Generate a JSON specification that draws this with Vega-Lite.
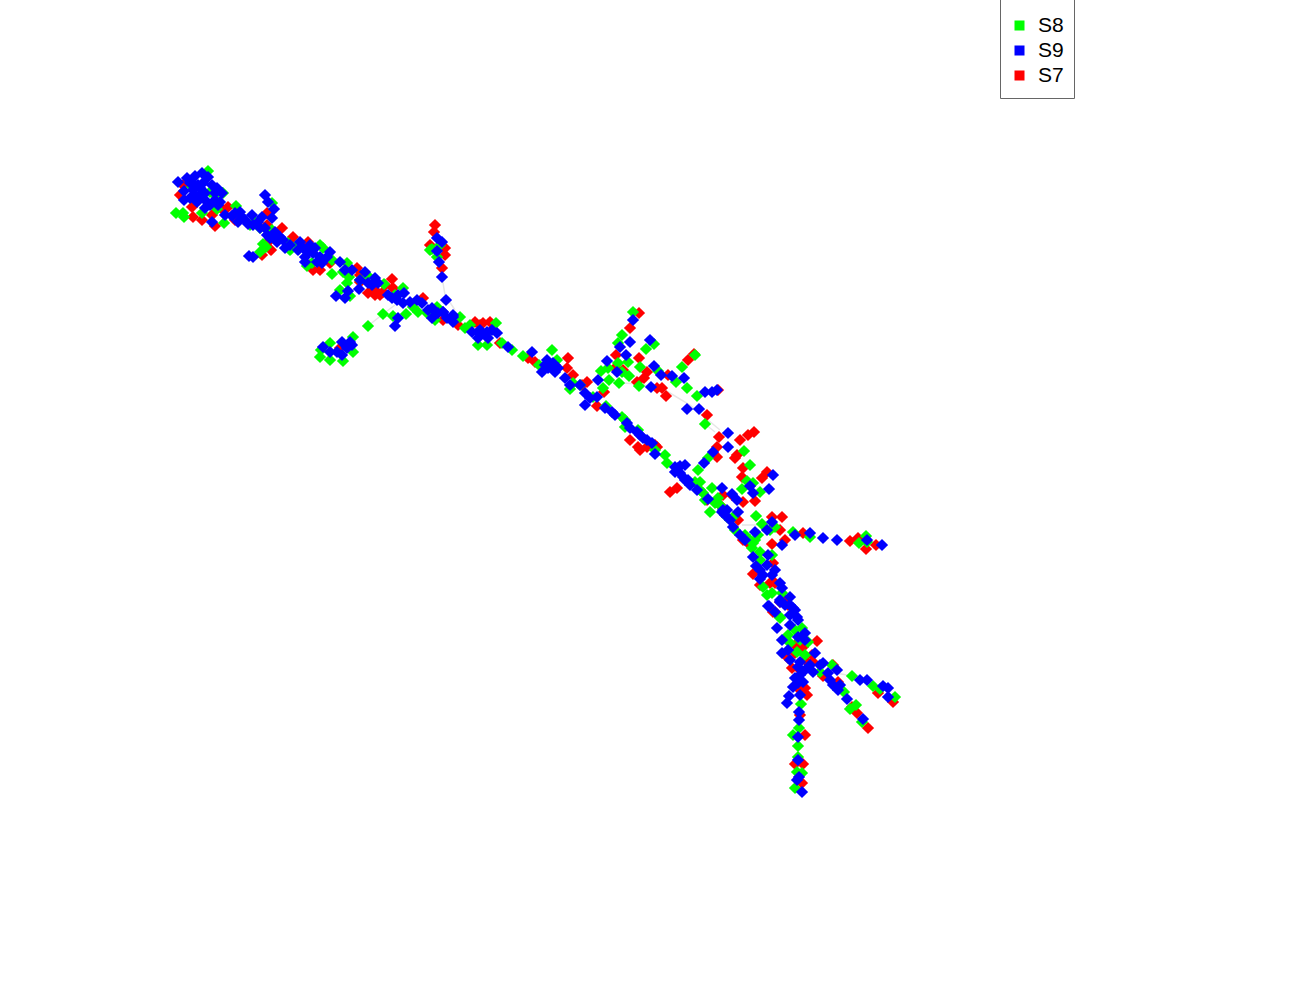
{"$schema":"https://vega.github.io/schema/vega-lite/v6.json","width":1300,"height":1000,"padding":0,"autosize":{"type":"none"},"background":"white","config":{"view":{"stroke":null}},
"datasets":{"tracks":[
{"p":"a","o":1,"x":368,"y":326},{"p":"a","o":2,"x":383,"y":314},{"p":"a","o":3,"x":395,"y":305},
{"p":"b","o":1,"x":442,"y":277},{"p":"b","o":2,"x":445,"y":295},{"p":"b","o":3,"x":455,"y":310},
{"p":"c","o":1,"x":622,"y":383},{"p":"c","o":2,"x":640,"y":384},{"p":"c","o":3,"x":665,"y":390},{"p":"c","o":4,"x":690,"y":405},{"p":"c","o":5,"x":720,"y":430},
{"p":"d","o":1,"x":770,"y":525},{"p":"d","o":2,"x":750,"y":525},{"p":"d","o":3,"x":742,"y":525},
{"p":"e","o":1,"x":820,"y":670},{"p":"e","o":2,"x":852,"y":676},
{"p":"f","o":1,"x":705,"y":424},{"p":"f","o":2,"x":715,"y":432}],
"pts":[
{"x":760,"y":585,"s":"S7"},{"x":785,"y":600,"s":"S7"},{"x":805,"y":660,"s":"S7"},{"x":812,"y":655,"s":"S7"},{"x":795,"y":645,"s":"S7"},{"x":630,"y":440,"s":"S7"},{"x":640,"y":450,"s":"S7"},{"x":655,"y":445,"s":"S7"},{"x":480,"y":325,"s":"S7"},{"x":375,"y":295,"s":"S7"},{"x":385,"y":285,"s":"S7"},{"x":360,"y":282,"s":"S7"},{"x":310,"y":265,"s":"S7"},{"x":270,"y":240,"s":"S7"},{"x":235,"y":220,"s":"S7"},{"x":215,"y":205,"s":"S7"},{"x":430,"y":245,"s":"S7"},{"x":445,"y":255,"s":"S7"},{"x":750,"y":545,"s":"S7"},{"x":738,"y":520,"s":"S7"},{"x":720,"y":505,"s":"S7"},
{"x":180,"y":195,"s":"S7"},{"x":192,"y":207,"s":"S7"},{"x":193,"y":217,"s":"S7"},{"x":202,"y":220,"s":"S7"},{"x":215,"y":226,"s":"S7"},{"x":212,"y":215,"s":"S7"},{"x":228,"y":207,"s":"S7"},{"x":223,"y":210,"s":"S7"},{"x":213,"y":193,"s":"S7"},{"x":267,"y":213,"s":"S7"},{"x":282,"y":228,"s":"S7"},{"x":293,"y":237,"s":"S7"},{"x":308,"y":242,"s":"S7"},{"x":313,"y":270,"s":"S7"},{"x":320,"y":270,"s":"S7"},{"x":330,"y":263,"s":"S7"},{"x":360,"y":275,"s":"S7"},{"x":392,"y":279,"s":"S7"},{"x":368,"y":293,"s":"S7"},{"x":377,"y":292,"s":"S7"},{"x":380,"y":295,"s":"S7"},{"x":373,"y":287,"s":"S7"},{"x":393,"y":288,"s":"S7"},{"x":383,"y":292,"s":"S7"},{"x":435,"y":225,"s":"S7"},{"x":434,"y":232,"s":"S7"},{"x":445,"y":248,"s":"S7"},{"x":442,"y":268,"s":"S7"},{"x":262,"y":255,"s":"S7"},{"x":271,"y":250,"s":"S7"},{"x":340,"y":348,"s":"S7"},{"x":443,"y":320,"s":"S7"},{"x":458,"y":325,"s":"S7"},{"x":423,"y":298,"s":"S7"},{"x":357,"y":268,"s":"S7"},{"x":267,"y":225,"s":"S7"},{"x":183,"y":185,"s":"S7"},
{"x":475,"y":322,"s":"S7"},{"x":483,"y":323,"s":"S7"},{"x":490,"y":322,"s":"S7"},{"x":482,"y":333,"s":"S7"},{"x":500,"y":343,"s":"S7"},{"x":535,"y":362,"s":"S7"},{"x":528,"y":358,"s":"S7"},{"x":568,"y":358,"s":"S7"},{"x":567,"y":368,"s":"S7"},{"x":573,"y":375,"s":"S7"},{"x":587,"y":382,"s":"S7"},{"x":582,"y":385,"s":"S7"},{"x":604,"y":392,"s":"S7"},{"x":597,"y":406,"s":"S7"},{"x":639,"y":313,"s":"S7"},{"x":630,"y":328,"s":"S7"},{"x":616,"y":355,"s":"S7"},{"x":639,"y":358,"s":"S7"},{"x":647,"y":372,"s":"S7"},{"x":644,"y":378,"s":"S7"},{"x":637,"y":382,"s":"S7"},{"x":668,"y":375,"s":"S7"},{"x":662,"y":388,"s":"S7"},{"x":657,"y":388,"s":"S7"},{"x":666,"y":396,"s":"S7"},{"x":688,"y":360,"s":"S7"},{"x":694,"y":354,"s":"S7"},{"x":718,"y":390,"s":"S7"},{"x":707,"y":415,"s":"S7"},{"x":719,"y":437,"s":"S7"},{"x":717,"y":447,"s":"S7"},{"x":717,"y":457,"s":"S7"},{"x":735,"y":458,"s":"S7"},{"x":638,"y":447,"s":"S7"},{"x":647,"y":447,"s":"S7"},{"x":657,"y":447,"s":"S7"},{"x":677,"y":488,"s":"S7"},{"x":670,"y":492,"s":"S7"},{"x":623,"y":370,"s":"S7"},{"x":615,"y":368,"s":"S7"},{"x":555,"y":365,"s":"S7"},
{"x":740,"y":440,"s":"S7"},{"x":748,"y":435,"s":"S7"},{"x":754,"y":432,"s":"S7"},{"x":737,"y":455,"s":"S7"},{"x":743,"y":468,"s":"S7"},{"x":742,"y":477,"s":"S7"},{"x":762,"y":478,"s":"S7"},{"x":767,"y":472,"s":"S7"},{"x":755,"y":501,"s":"S7"},{"x":743,"y":502,"s":"S7"},{"x":732,"y":495,"s":"S7"},{"x":723,"y":495,"s":"S7"},{"x":707,"y":500,"s":"S7"},{"x":772,"y":517,"s":"S7"},{"x":782,"y":517,"s":"S7"},{"x":780,"y":530,"s":"S7"},{"x":785,"y":540,"s":"S7"},{"x":772,"y":544,"s":"S7"},{"x":803,"y":533,"s":"S7"},{"x":850,"y":541,"s":"S7"},{"x":858,"y":538,"s":"S7"},{"x":866,"y":549,"s":"S7"},{"x":876,"y":545,"s":"S7"},{"x":743,"y":540,"s":"S7"},{"x":753,"y":574,"s":"S7"},{"x":773,"y":563,"s":"S7"},{"x":775,"y":583,"s":"S7"},{"x":770,"y":583,"s":"S7"},{"x":780,"y":602,"s":"S7"},{"x":775,"y":612,"s":"S7"},
{"x":773,"y":612,"s":"S7"},{"x":788,"y":605,"s":"S7"},{"x":817,"y":641,"s":"S7"},{"x":803,"y":647,"s":"S7"},{"x":795,"y":653,"s":"S7"},{"x":788,"y":658,"s":"S7"},{"x":792,"y":668,"s":"S7"},{"x":813,"y":662,"s":"S7"},{"x":800,"y":670,"s":"S7"},{"x":823,"y":676,"s":"S7"},{"x":833,"y":665,"s":"S7"},{"x":838,"y":682,"s":"S7"},{"x":805,"y":688,"s":"S7"},{"x":807,"y":695,"s":"S7"},{"x":800,"y":690,"s":"S7"},{"x":878,"y":693,"s":"S7"},{"x":893,"y":702,"s":"S7"},{"x":852,"y":707,"s":"S7"},{"x":857,"y":713,"s":"S7"},{"x":868,"y":728,"s":"S7"},{"x":805,"y":735,"s":"S7"},{"x":795,"y":764,"s":"S7"},{"x":803,"y":764,"s":"S7"},{"x":802,"y":783,"s":"S7"},{"x":800,"y":715,"s":"S7"},
{"x":735,"y":530,"s":"S8"},{"x":745,"y":535,"s":"S8"},{"x":752,"y":548,"s":"S8"},{"x":758,"y":535,"s":"S8"},{"x":770,"y":530,"s":"S8"},{"x":800,"y":640,"s":"S8"},{"x":795,"y":630,"s":"S8"},{"x":700,"y":490,"s":"S8"},{"x":705,"y":500,"s":"S8"},{"x":720,"y":505,"s":"S8"},{"x":655,"y":450,"s":"S8"},{"x":625,"y":420,"s":"S8"},{"x":580,"y":385,"s":"S8"},{"x":470,"y":325,"s":"S8"},{"x":360,"y":280,"s":"S8"},{"x":320,"y":245,"s":"S8"},{"x":290,"y":250,"s":"S8"},{"x":250,"y":225,"s":"S8"},{"x":215,"y":195,"s":"S8"},{"x":205,"y":175,"s":"S8"},{"x":430,"y":250,"s":"S8"},{"x":440,"y":245,"s":"S8"},{"x":755,"y":540,"s":"S8"},
{"x":176,"y":213,"s":"S8"},{"x":183,"y":213,"s":"S8"},{"x":184,"y":217,"s":"S8"},{"x":208,"y":171,"s":"S8"},{"x":192,"y":187,"s":"S8"},{"x":202,"y":213,"s":"S8"},{"x":210,"y":192,"s":"S8"},{"x":223,"y":193,"s":"S8"},{"x":224,"y":223,"s":"S8"},{"x":236,"y":206,"s":"S8"},{"x":217,"y":209,"s":"S8"},{"x":272,"y":203,"s":"S8"},{"x":255,"y":222,"s":"S8"},{"x":260,"y":228,"s":"S8"},{"x":272,"y":230,"s":"S8"},{"x":263,"y":244,"s":"S8"},{"x":260,"y":252,"s":"S8"},{"x":266,"y":247,"s":"S8"},{"x":288,"y":243,"s":"S8"},{"x":297,"y":245,"s":"S8"},{"x":323,"y":248,"s":"S8"},{"x":332,"y":260,"s":"S8"},{"x":312,"y":263,"s":"S8"},{"x":307,"y":266,"s":"S8"},{"x":332,"y":274,"s":"S8"},{"x":347,"y":263,"s":"S8"},{"x":343,"y":272,"s":"S8"},{"x":349,"y":277,"s":"S8"},{"x":347,"y":283,"s":"S8"},{"x":340,"y":290,"s":"S8"},{"x":350,"y":296,"s":"S8"},{"x":368,"y":326,"s":"S8"},{"x":383,"y":314,"s":"S8"},{"x":393,"y":316,"s":"S8"},{"x":406,"y":314,"s":"S8"},{"x":368,"y":276,"s":"S8"},{"x":384,"y":284,"s":"S8"},{"x":395,"y":295,"s":"S8"},{"x":403,"y":288,"s":"S8"},{"x":413,"y":307,"s":"S8"},{"x":418,"y":312,"s":"S8"},{"x":427,"y":313,"s":"S8"},{"x":435,"y":320,"s":"S8"},{"x":437,"y":307,"s":"S8"},{"x":353,"y":337,"s":"S8"},{"x":353,"y":352,"s":"S8"},{"x":320,"y":357,"s":"S8"},{"x":321,"y":350,"s":"S8"},{"x":330,"y":360,"s":"S8"},{"x":343,"y":361,"s":"S8"},{"x":330,"y":343,"s":"S8"},{"x":432,"y":249,"s":"S8"},{"x":437,"y":257,"s":"S8"},
{"x":460,"y":317,"s":"S8"},{"x":465,"y":328,"s":"S8"},{"x":496,"y":323,"s":"S8"},{"x":478,"y":345,"s":"S8"},{"x":487,"y":345,"s":"S8"},{"x":502,"y":343,"s":"S8"},{"x":512,"y":350,"s":"S8"},{"x":523,"y":356,"s":"S8"},{"x":552,"y":350,"s":"S8"},{"x":557,"y":360,"s":"S8"},{"x":539,"y":365,"s":"S8"},{"x":573,"y":383,"s":"S8"},{"x":570,"y":389,"s":"S8"},{"x":593,"y":397,"s":"S8"},{"x":603,"y":388,"s":"S8"},{"x":606,"y":406,"s":"S8"},{"x":601,"y":371,"s":"S8"},{"x":609,"y":380,"s":"S8"},{"x":619,"y":383,"s":"S8"},{"x":629,"y":376,"s":"S8"},{"x":640,"y":367,"s":"S8"},{"x":628,"y":362,"s":"S8"},{"x":618,"y":363,"s":"S8"},{"x":608,"y":368,"s":"S8"},{"x":622,"y":335,"s":"S8"},{"x":618,"y":343,"s":"S8"},{"x":646,"y":349,"s":"S8"},{"x":654,"y":344,"s":"S8"},{"x":633,"y":312,"s":"S8"},{"x":658,"y":371,"s":"S8"},{"x":682,"y":367,"s":"S8"},{"x":695,"y":355,"s":"S8"},{"x":676,"y":382,"s":"S8"},{"x":687,"y":388,"s":"S8"},{"x":697,"y":396,"s":"S8"},{"x":705,"y":424,"s":"S8"},{"x":639,"y":386,"s":"S8"},{"x":622,"y":417,"s":"S8"},{"x":625,"y":427,"s":"S8"},{"x":638,"y":430,"s":"S8"},{"x":665,"y":455,"s":"S8"},{"x":667,"y":463,"s":"S8"},{"x":698,"y":470,"s":"S8"},{"x":708,"y":458,"s":"S8"},{"x":695,"y":482,"s":"S8"},{"x":700,"y":482,"s":"S8"},{"x":703,"y":493,"s":"S8"},{"x":712,"y":488,"s":"S8"},{"x":715,"y":503,"s":"S8"},{"x":710,"y":512,"s":"S8"},{"x":727,"y":517,"s":"S8"},{"x":733,"y":517,"s":"S8"},{"x":622,"y":372,"s":"S8"},
{"x":744,"y":451,"s":"S8"},{"x":750,"y":465,"s":"S8"},{"x":718,"y":498,"s":"S8"},{"x":742,"y":489,"s":"S8"},{"x":747,"y":481,"s":"S8"},{"x":753,"y":483,"s":"S8"},{"x":760,"y":492,"s":"S8"},{"x":756,"y":516,"s":"S8"},{"x":762,"y":524,"s":"S8"},{"x":775,"y":527,"s":"S8"},{"x":750,"y":540,"s":"S8"},{"x":753,"y":543,"s":"S8"},{"x":760,"y":552,"s":"S8"},{"x":760,"y":560,"s":"S8"},{"x":772,"y":555,"s":"S8"},{"x":793,"y":532,"s":"S8"},{"x":810,"y":537,"s":"S8"},{"x":859,"y":543,"s":"S8"},{"x":867,"y":542,"s":"S8"},{"x":866,"y":536,"s":"S8"},{"x":763,"y":587,"s":"S8"},{"x":767,"y":595,"s":"S8"},{"x":772,"y":593,"s":"S8"},{"x":782,"y":593,"s":"S8"},{"x":780,"y":617,"s":"S8"},
{"x":780,"y":618,"s":"S8"},{"x":788,"y":635,"s":"S8"},{"x":802,"y":628,"s":"S8"},{"x":808,"y":642,"s":"S8"},{"x":797,"y":652,"s":"S8"},{"x":805,"y":655,"s":"S8"},{"x":820,"y":672,"s":"S8"},{"x":832,"y":665,"s":"S8"},{"x":852,"y":676,"s":"S8"},{"x":873,"y":686,"s":"S8"},{"x":880,"y":689,"s":"S8"},{"x":895,"y":697,"s":"S8"},{"x":844,"y":692,"s":"S8"},{"x":856,"y":705,"s":"S8"},{"x":850,"y":709,"s":"S8"},{"x":862,"y":722,"s":"S8"},{"x":801,"y":704,"s":"S8"},{"x":799,"y":728,"s":"S8"},{"x":793,"y":735,"s":"S8"},{"x":798,"y":746,"s":"S8"},{"x":798,"y":757,"s":"S8"},{"x":797,"y":772,"s":"S8"},{"x":802,"y":773,"s":"S8"},{"x":795,"y":788,"s":"S8"},{"x":790,"y":643,"s":"S8"},
{"x":178,"y":182,"s":"S9"},{"x":187,"y":178,"s":"S9"},{"x":195,"y":176,"s":"S9"},{"x":202,"y":173,"s":"S9"},{"x":208,"y":177,"s":"S9"},{"x":184,"y":191,"s":"S9"},{"x":184,"y":200,"s":"S9"},{"x":193,"y":190,"s":"S9"},{"x":198,"y":185,"s":"S9"},{"x":200,"y":195,"s":"S9"},{"x":197,"y":202,"s":"S9"},{"x":205,"y":193,"s":"S9"},{"x":217,"y":188,"s":"S9"},{"x":222,"y":193,"s":"S9"},{"x":215,"y":200,"s":"S9"},{"x":210,"y":205,"s":"S9"},{"x":220,"y":202,"s":"S9"},{"x":225,"y":215,"s":"S9"},{"x":212,"y":222,"s":"S9"},{"x":235,"y":213,"s":"S9"},{"x":242,"y":217,"s":"S9"},{"x":238,"y":222,"s":"S9"},{"x":245,"y":220,"s":"S9"},{"x":252,"y":215,"s":"S9"},{"x":265,"y":195,"s":"S9"},{"x":268,"y":202,"s":"S9"},{"x":274,"y":209,"s":"S9"},{"x":253,"y":225,"s":"S9"},{"x":262,"y":217,"s":"S9"},{"x":272,"y":218,"s":"S9"},{"x":260,"y":228,"s":"S9"},{"x":267,"y":235,"s":"S9"},{"x":275,"y":232,"s":"S9"},{"x":280,"y":237,"s":"S9"},{"x":277,"y":242,"s":"S9"},{"x":285,"y":248,"s":"S9"},{"x":300,"y":242,"s":"S9"},{"x":298,"y":250,"s":"S9"},{"x":310,"y":245,"s":"S9"},{"x":305,"y":257,"s":"S9"},{"x":313,"y":253,"s":"S9"},{"x":320,"y":257,"s":"S9"},{"x":327,"y":257,"s":"S9"},{"x":317,"y":262,"s":"S9"},{"x":340,"y":262,"s":"S9"},{"x":352,"y":270,"s":"S9"},{"x":365,"y":272,"s":"S9"},{"x":375,"y":278,"s":"S9"},{"x":368,"y":283,"s":"S9"},{"x":348,"y":291,"s":"S9"},{"x":359,"y":289,"s":"S9"},{"x":336,"y":296,"s":"S9"},{"x":345,"y":298,"s":"S9"},{"x":388,"y":295,"s":"S9"},{"x":404,"y":293,"s":"S9"},{"x":397,"y":300,"s":"S9"},{"x":403,"y":303,"s":"S9"},{"x":417,"y":300,"s":"S9"},{"x":422,"y":303,"s":"S9"},{"x":432,"y":308,"s":"S9"},{"x":443,"y":312,"s":"S9"},{"x":432,"y":318,"s":"S9"},{"x":453,"y":315,"s":"S9"},{"x":453,"y":322,"s":"S9"},{"x":249,"y":256,"s":"S9"},{"x":253,"y":257,"s":"S9"},{"x":437,"y":238,"s":"S9"},{"x":442,"y":242,"s":"S9"},{"x":437,"y":251,"s":"S9"},{"x":439,"y":262,"s":"S9"},{"x":442,"y":277,"s":"S9"},{"x":446,"y":300,"s":"S9"},{"x":398,"y":318,"s":"S9"},{"x":395,"y":326,"s":"S9"},{"x":323,"y":347,"s":"S9"},{"x":330,"y":352,"s":"S9"},{"x":342,"y":342,"s":"S9"},{"x":350,"y":342,"s":"S9"},{"x":347,"y":348,"s":"S9"},{"x":342,"y":355,"s":"S9"},{"x":337,"y":352,"s":"S9"},{"x":352,"y":345,"s":"S9"},
{"x":443,"y":312,"s":"S9"},{"x":453,"y":317,"s":"S9"},{"x":472,"y":332,"s":"S9"},{"x":478,"y":332,"s":"S9"},{"x":487,"y":332,"s":"S9"},{"x":497,"y":333,"s":"S9"},{"x":478,"y":338,"s":"S9"},{"x":488,"y":338,"s":"S9"},{"x":508,"y":347,"s":"S9"},{"x":532,"y":352,"s":"S9"},{"x":547,"y":360,"s":"S9"},{"x":553,"y":363,"s":"S9"},{"x":542,"y":372,"s":"S9"},{"x":548,"y":368,"s":"S9"},{"x":558,"y":368,"s":"S9"},{"x":565,"y":378,"s":"S9"},{"x":580,"y":385,"s":"S9"},{"x":598,"y":380,"s":"S9"},{"x":607,"y":361,"s":"S9"},{"x":617,"y":372,"s":"S9"},{"x":630,"y":342,"s":"S9"},{"x":620,"y":347,"s":"S9"},{"x":626,"y":355,"s":"S9"},{"x":633,"y":320,"s":"S9"},{"x":650,"y":340,"s":"S9"},{"x":654,"y":366,"s":"S9"},{"x":661,"y":375,"s":"S9"},{"x":672,"y":376,"s":"S9"},{"x":684,"y":378,"s":"S9"},{"x":651,"y":387,"s":"S9"},{"x":705,"y":392,"s":"S9"},{"x":712,"y":392,"s":"S9"},{"x":717,"y":390,"s":"S9"},{"x":687,"y":409,"s":"S9"},{"x":699,"y":409,"s":"S9"},{"x":585,"y":393,"s":"S9"},{"x":585,"y":405,"s":"S9"},{"x":597,"y":397,"s":"S9"},{"x":612,"y":412,"s":"S9"},{"x":615,"y":415,"s":"S9"},{"x":627,"y":423,"s":"S9"},{"x":637,"y":432,"s":"S9"},{"x":643,"y":438,"s":"S9"},{"x":652,"y":443,"s":"S9"},{"x":655,"y":454,"s":"S9"},{"x":678,"y":468,"s":"S9"},{"x":685,"y":465,"s":"S9"},{"x":683,"y":477,"s":"S9"},{"x":688,"y":480,"s":"S9"},{"x":704,"y":463,"s":"S9"},{"x":713,"y":452,"s":"S9"},{"x":728,"y":433,"s":"S9"},{"x":728,"y":447,"s":"S9"},{"x":697,"y":490,"s":"S9"},{"x":708,"y":499,"s":"S9"},{"x":722,"y":488,"s":"S9"},{"x":732,"y":494,"s":"S9"},{"x":737,"y":500,"s":"S9"},{"x":723,"y":510,"s":"S9"},
{"x":675,"y":467,"s":"S9"},{"x":680,"y":473,"s":"S9"},{"x":685,"y":480,"s":"S9"},{"x":722,"y":512,"s":"S9"},{"x":727,"y":510,"s":"S9"},{"x":738,"y":512,"s":"S9"},{"x":733,"y":527,"s":"S9"},{"x":750,"y":486,"s":"S9"},{"x":753,"y":493,"s":"S9"},{"x":773,"y":475,"s":"S9"},{"x":769,"y":489,"s":"S9"},{"x":772,"y":522,"s":"S9"},{"x":767,"y":530,"s":"S9"},{"x":755,"y":532,"s":"S9"},{"x":740,"y":535,"s":"S9"},{"x":795,"y":535,"s":"S9"},{"x":810,"y":533,"s":"S9"},{"x":823,"y":538,"s":"S9"},{"x":837,"y":540,"s":"S9"},{"x":782,"y":545,"s":"S9"},{"x":867,"y":540,"s":"S9"},{"x":882,"y":545,"s":"S9"},{"x":753,"y":557,"s":"S9"},{"x":768,"y":555,"s":"S9"},{"x":756,"y":566,"s":"S9"},{"x":767,"y":565,"s":"S9"},{"x":775,"y":570,"s":"S9"},{"x":763,"y":575,"s":"S9"},{"x":760,"y":579,"s":"S9"},{"x":780,"y":583,"s":"S9"},{"x":782,"y":588,"s":"S9"},{"x":790,"y":597,"s":"S9"},{"x":780,"y":600,"s":"S9"},{"x":768,"y":606,"s":"S9"},{"x":793,"y":608,"s":"S9"},{"x":775,"y":612,"s":"S9"},{"x":797,"y":617,"s":"S9"},
{"x":769,"y":606,"s":"S9"},{"x":780,"y":602,"s":"S9"},{"x":790,"y":615,"s":"S9"},{"x":798,"y":620,"s":"S9"},{"x":777,"y":628,"s":"S9"},{"x":782,"y":640,"s":"S9"},{"x":798,"y":637,"s":"S9"},{"x":805,"y":633,"s":"S9"},{"x":782,"y":653,"s":"S9"},{"x":788,"y":650,"s":"S9"},{"x":815,"y":653,"s":"S9"},{"x":800,"y":662,"s":"S9"},{"x":798,"y":667,"s":"S9"},{"x":810,"y":665,"s":"S9"},{"x":813,"y":672,"s":"S9"},{"x":823,"y":663,"s":"S9"},{"x":837,"y":670,"s":"S9"},{"x":828,"y":673,"s":"S9"},{"x":795,"y":678,"s":"S9"},{"x":803,"y":682,"s":"S9"},{"x":798,"y":683,"s":"S9"},{"x":793,"y":687,"s":"S9"},{"x":840,"y":685,"s":"S9"},{"x":833,"y":685,"s":"S9"},{"x":838,"y":690,"s":"S9"},{"x":860,"y":680,"s":"S9"},{"x":867,"y":680,"s":"S9"},{"x":883,"y":686,"s":"S9"},{"x":888,"y":688,"s":"S9"},{"x":888,"y":697,"s":"S9"},{"x":789,"y":696,"s":"S9"},{"x":787,"y":703,"s":"S9"},{"x":800,"y":695,"s":"S9"},{"x":847,"y":699,"s":"S9"},{"x":863,"y":719,"s":"S9"},{"x":799,"y":712,"s":"S9"},{"x":799,"y":720,"s":"S9"},{"x":798,"y":737,"s":"S9"},{"x":798,"y":760,"s":"S9"},{"x":799,"y":777,"s":"S9"},{"x":797,"y":780,"s":"S9"},{"x":802,"y":792,"s":"S9"},
{"x":190,"y":183,"s":"S9"},{"x":195,"y":195,"s":"S9"},{"x":200,"y":188,"s":"S9"},{"x":190,"y":198,"s":"S9"},{"x":205,"y":200,"s":"S9"},{"x":212,"y":185,"s":"S9"},{"x":215,"y":193,"s":"S9"},{"x":218,"y":205,"s":"S9"},{"x":205,"y":208,"s":"S9"},{"x":192,"y":182,"s":"S9"},{"x":203,"y":183,"s":"S9"},{"x":232,"y":216,"s":"S9"},{"x":240,"y":212,"s":"S9"},{"x":248,"y":224,"s":"S9"},{"x":258,"y":222,"s":"S9"},{"x":265,"y":228,"s":"S9"},{"x":270,"y":238,"s":"S9"},{"x":283,"y":240,"s":"S9"},{"x":290,"y":245,"s":"S9"},{"x":303,"y":248,"s":"S9"},{"x":308,"y":252,"s":"S9"},{"x":315,"y":248,"s":"S9"},{"x":305,"y":262,"s":"S9"},{"x":322,"y":263,"s":"S9"},{"x":330,"y":252,"s":"S9"},{"x":345,"y":270,"s":"S9"},{"x":360,"y":280,"s":"S9"},{"x":372,"y":285,"s":"S9"},{"x":378,"y":283,"s":"S9"},{"x":392,"y":298,"s":"S9"},{"x":398,"y":295,"s":"S9"},{"x":410,"y":302,"s":"S9"},{"x":428,"y":310,"s":"S9"},{"x":438,"y":313,"s":"S9"},{"x":447,"y":318,"s":"S9"},{"x":480,"y":330,"s":"S9"},{"x":485,"y":335,"s":"S9"},{"x":492,"y":330,"s":"S9"},{"x":545,"y":365,"s":"S9"},{"x":555,"y":372,"s":"S9"},{"x":570,"y":385,"s":"S9"},{"x":590,"y":398,"s":"S9"},{"x":605,"y":408,"s":"S9"},{"x":630,"y":428,"s":"S9"},{"x":640,"y":435,"s":"S9"},{"x":647,"y":440,"s":"S9"},{"x":675,"y":472,"s":"S9"},{"x":680,"y":466,"s":"S9"},{"x":690,"y":485,"s":"S9"},{"x":725,"y":515,"s":"S9"},{"x":730,"y":520,"s":"S9"},{"x":745,"y":540,"s":"S9"},{"x":760,"y":570,"s":"S9"},{"x":772,"y":575,"s":"S9"},{"x":785,"y":605,"s":"S9"},{"x":790,"y":605,"s":"S9"},{"x":795,"y":610,"s":"S9"},{"x":790,"y":625,"s":"S9"},{"x":805,"y":640,"s":"S9"},{"x":790,"y":660,"s":"S9"},{"x":800,"y":675,"s":"S9"},{"x":805,"y":670,"s":"S9"},{"x":820,"y":665,"s":"S9"},{"x":830,"y":680,"s":"S9"}
]},
"layer":[
{"data":{"name":"tracks"},"mark":{"type":"line","color":"#e6e6e6","strokeWidth":1.5},"encoding":{"x":{"field":"x","type":"quantitative","scale":{"domain":[0,1300]},"axis":null},"y":{"field":"y","type":"quantitative","scale":{"domain":[1000,0]},"axis":null},"detail":{"field":"p"},"order":{"field":"o"}}},
{"data":{"name":"pts"},"mark":{"type":"point","shape":"diamond","filled":true,"opacity":1,"size":150},"encoding":{"x":{"field":"x","type":"quantitative","scale":{"domain":[0,1300]},"axis":null},"y":{"field":"y","type":"quantitative","scale":{"domain":[1000,0]},"axis":null},
"color":{"field":"s","type":"nominal","scale":{"domain":["S8","S9","S7"],"range":["#00ff00","#0000ff","#ff0000"]},
"legend":{"title":" ","titleFontSize":1,"titlePadding":3,"orient":"none","legendX":1000,"legendY":-1,"symbolType":"square","symbolSize":100,"symbolOpacity":1,"labelFont":"Liberation Sans","labelFontSize":21,"labelColor":"#000000","labelOffset":8,"rowPadding":0,"clipHeight":25,"padding":10,"symbolOffset":-1,"fillColor":"white","strokeColor":"#666666","symbolStrokeWidth":0,"cornerRadius":0}}}}
]}
